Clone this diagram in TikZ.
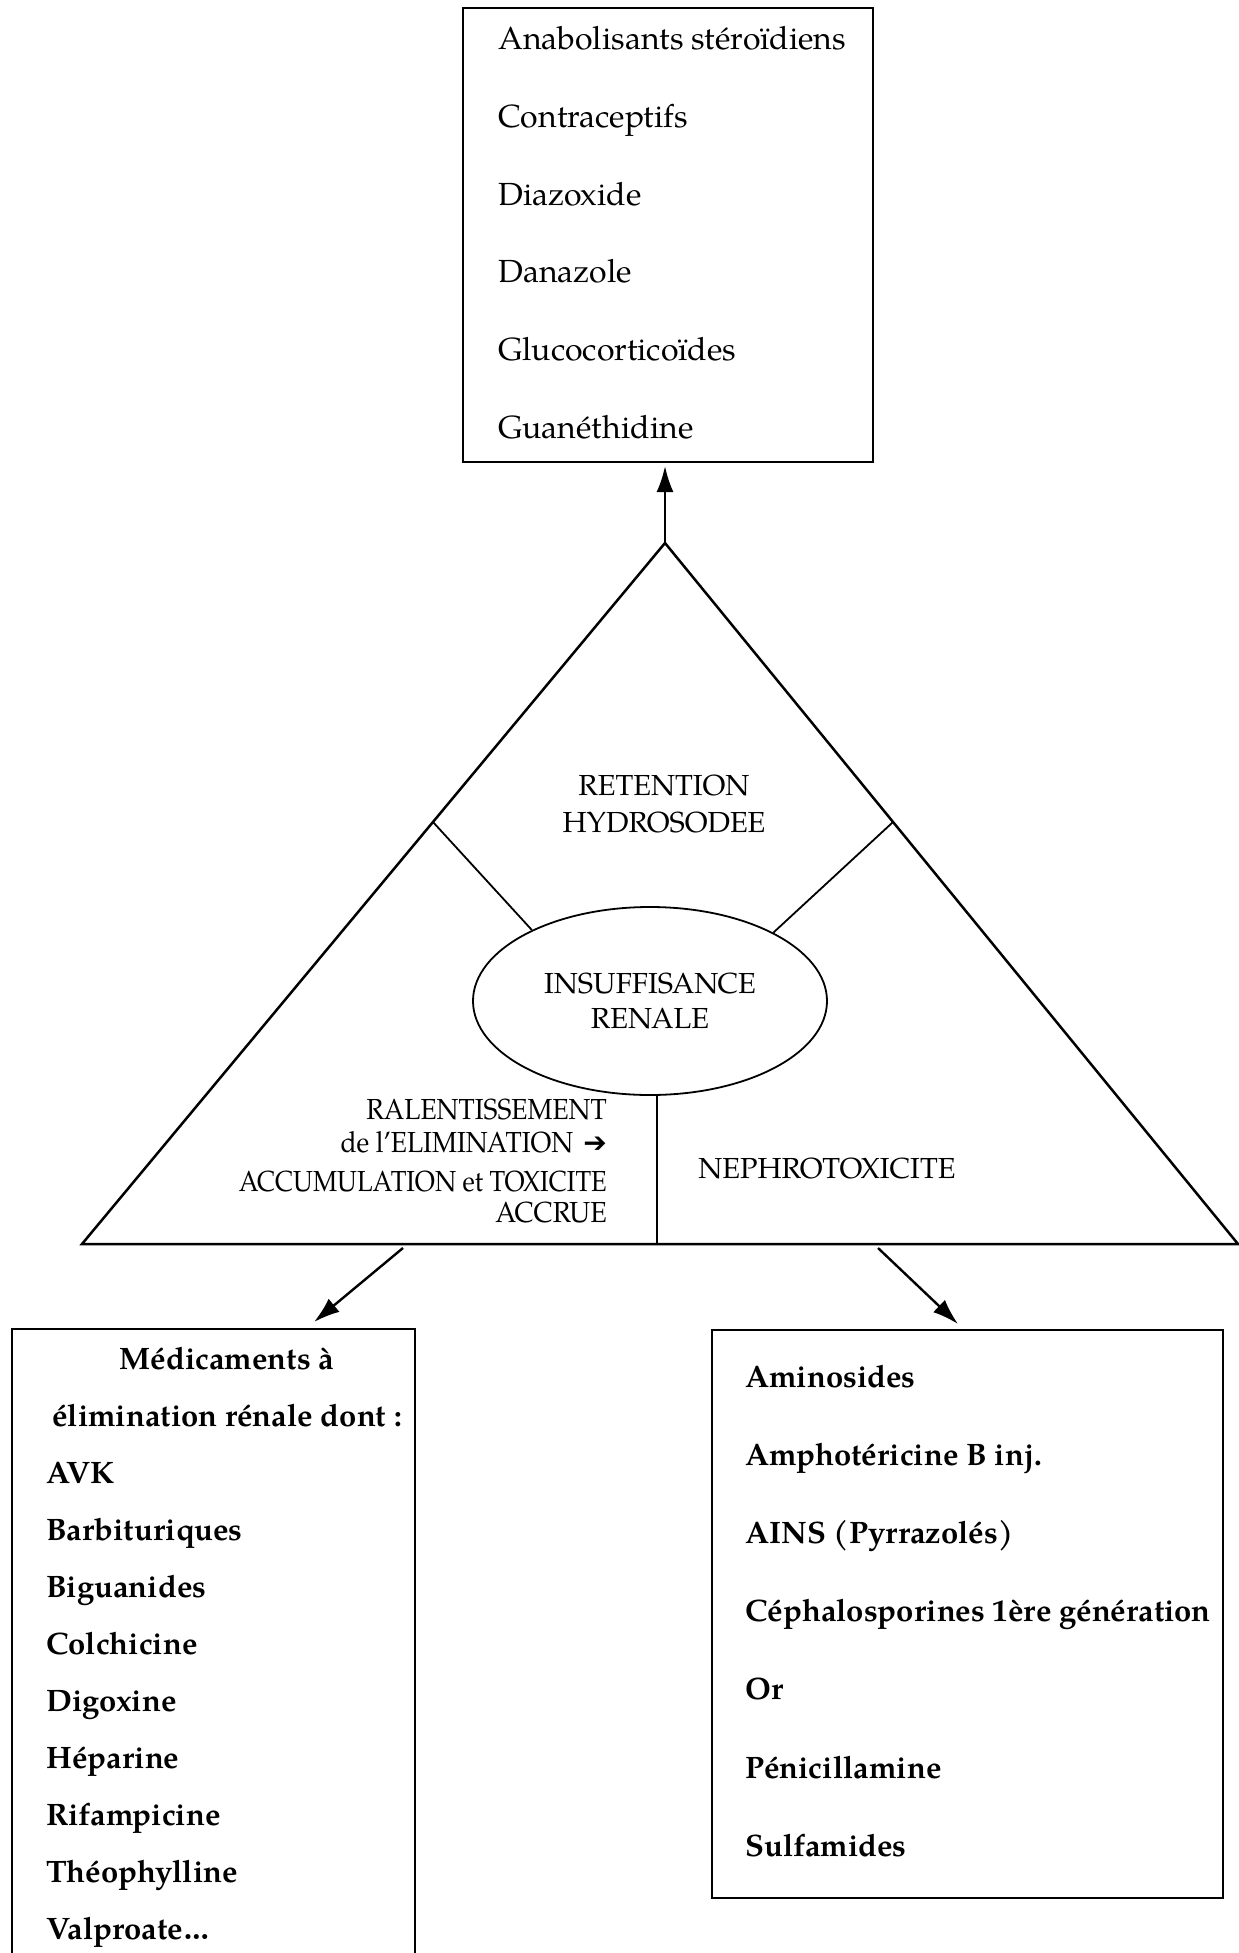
\documentclass[tikz,border=0pt]{standalone}
\usepackage{fontspec}
\setmainfont{TeX Gyre Pagella}
\newfontfamily\dejavu{DejaVu Sans}
\usetikzlibrary{shapes.geometric,arrows.meta,calc}
\begin{document}
\begin{tikzpicture}[x=0.5pt,y=-0.5pt,
  line width=1.25pt,
  thin line/.style={line width=0.9pt},
  arr/.style={line width=1.2pt,-{Latex[length=13pt,width=8.5pt]}},
  boxtxt/.style={anchor=base west,inner sep=0pt,font=\fontsize{16}{19}\selectfont},
  boldtxt/.style={anchor=base west,inner sep=0pt,font=\bfseries\fontsize{15.5}{19}\selectfont},
  tritxt/.style={inner sep=0pt,font=\fontsize{14.5}{17.5}\selectfont},
  frame/.style={draw,inner sep=0pt,outer sep=0pt}
]
\useasboundingbox (0,0) rectangle (1238,1953);
\fill[white] (0,0) rectangle (1238,1953);

% ---- top box ----
\node[frame,minimum width=205pt,minimum height=227pt] (topbox) at (668,235) {};
\foreach \t [count=\i] in {Anabolisants stéroïdiens,Contraceptifs,Diazoxide,Danazole,Glucocorticoïdes,Guanéthidine}
  \node[boxtxt] (top\i) at (497,{50+77.6*(\i-1)}) {\t};

% ---- triangle ----
\coordinate (apex) at (665,543);
\coordinate (bl) at (82,1244);
\coordinate (br) at (1238,1244);
\draw[line join=miter] (apex) -- (bl) -- (br) -- cycle;

\draw[arr,shorten >=2pt] (apex) -- (apex |- topbox.south);

% ---- ellipse ----
\node[ellipse,draw,thin line,minimum width=177pt,minimum height=94pt,inner sep=0pt,
      align=center,font=\fontsize{14.5}{17.5}\selectfont] (ell) at (650,1001)
      {INSUFFISANCE\\RENALE};

\coordinate (sl) at ($(apex)!0.398!(bl)$);
\coordinate (sr) at ($(apex)!0.398!(br)$);
\draw[thin line] (sl) -- (ell.149.5);
\draw[thin line] (sr) -- (ell.29.5);
\coordinate (vb) at (657,1244);
\draw[thin line] (vb) -- (vb |- ell.south);

% ---- triangle texts ----
\node[tritxt,anchor=base] (ret1) at (664,795) {RETENTION};
\node[tritxt,anchor=base] (ret2) at (664,832) {HYDROSODEE};
\node[tritxt,anchor=base east] (ral1) at (608,1119) {\scalebox{0.91}[1]{RALENTISSEMENT}};
\node[tritxt,anchor=base east] (ral2) at (608,1152) {\scalebox{0.91}[1]{de l'ELIMINATION}\hspace{5pt}{\dejavu\bfseries\fontsize{14}{15}\selectfont ➔}\hspace{2pt}};
\node[tritxt,anchor=base east] (ral3) at (608,1191) {\scalebox{0.88}[1]{ACCUMULATION et TOXICITE}};
\node[tritxt,anchor=base east] (ral4) at (608,1222) {\scalebox{0.93}[1]{ACCRUE}};
\node[tritxt,anchor=base west] (nep) at (697,1178) {NEPHROTOXICITE};

% ---- arrows down ----
\coordinate (la0) at (403,1248);
\coordinate (la1) at (314,1322);
\coordinate (ra0) at (878,1248);
\coordinate (ra1) at (958,1324);
\draw[arr] (la0) -- (la1);
\draw[arr] (ra0) -- (ra1);

% ---- left box (runs off the bottom) ----
\node[inner sep=0pt,outer sep=0pt,minimum width=201.5pt,minimum height=312pt] (lbox) at (213.5,1641) {};
\draw (lbox.south west) -- (lbox.north west) -- (lbox.north east) -- (lbox.south east);
\node[boldtxt,anchor=base] (lh1) at (227,1369) {Médicaments à};
\node[boldtxt,anchor=base] (lh2) at (227,1426) {élimination rénale dont :};
\foreach \t [count=\i] in {AVK,Barbituriques,Biguanides,Colchicine,Digoxine,Héparine,Rifampicine,Théophylline,Valproate\ldots}
  \node[boldtxt] (l\i) at (45,{1483+57.1*(\i-1)}) {\t};

% ---- right box ----
\node[frame,minimum width=255.5pt,minimum height=284pt] (rbox) at (967.5,1614) {};
\foreach \t [count=\i] in {Aminosides,Amphotéricine B inj.,AINS (Pyrrazolés),Céphalosporines 1ère génération,Or,Pénicillamine,Sulfamides}
  \node[boldtxt] (r\i) at (744,{1387+78.2*(\i-1)}) {\t};
\end{tikzpicture}
\end{document}
